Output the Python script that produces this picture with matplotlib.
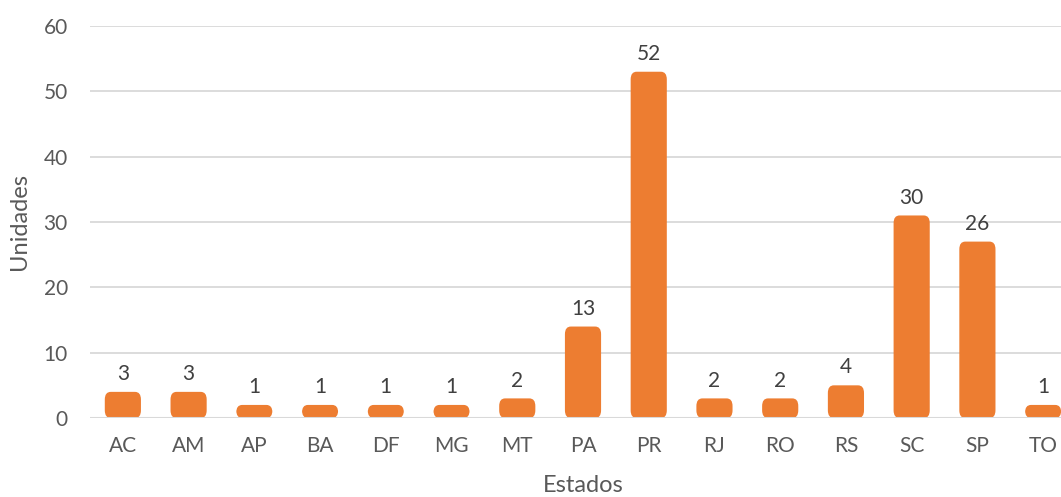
import matplotlib.pyplot as plt
from matplotlib.patches import FancyBboxPatch

estados = ['AC', 'AM', 'AP', 'BA', 'DF', 'MG', 'MT', 'PA', 'PR', 'RJ', 'RO', 'RS', 'SC', 'SP', 'TO']
unidades = [3, 3, 1, 1, 1, 1, 2, 13, 52, 2, 2, 4, 30, 26, 1]

orange = '#ED7D31'
grid = '#D9D9D9'
txt = '#595959'

plt.rcParams['font.family'] = ['Lato', 'DejaVu Sans']

fig = plt.figure(figsize=(10.61, 4.97), dpi=100)
ax = fig.add_axes([90 / 1061, 79 / 497, 986 / 1061, 392 / 497])

x = range(len(estados))
bars = ax.bar(x, unidades, width=0.55, color='none')

cap = 1.0  # rounded top cap, like the original
for b, v in zip(bars, unidades):
    p = FancyBboxPatch((b.get_x(), 0), b.get_width(), b.get_height() + cap,
                       boxstyle='round,pad=0,rounding_size=0.09',
                       mutation_aspect=13, facecolor=orange, edgecolor='none', zorder=2)
    ax.add_patch(p)
    ax.text(b.get_x() + b.get_width() / 2, v + cap + 1.2, str(v),
            ha='center', va='bottom', fontsize=15, color='#404040')

ax.set_xlim(-0.5, len(estados) - 0.5)
ax.set_ylim(0, 60)
ax.set_yticks(range(0, 61, 10))
ax.yaxis.grid(True, color=grid, linewidth=1.3, zorder=0)
ax.set_axisbelow(True)
ax.axhline(0, color=grid, linewidth=1.5, zorder=3)
ax.set_xticks(list(x))
ax.set_xticklabels(estados)
for s in ax.spines.values():
    s.set_visible(False)
ax.tick_params(axis='both', length=0, labelsize=15, labelcolor=txt)
ax.tick_params(axis='x', pad=13)
ax.tick_params(axis='y', pad=16)
ax.set_xlabel('Estados', fontsize=17, color=txt, labelpad=14)
ax.set_ylabel('Unidades', fontsize=17, color=txt, labelpad=10)

fig.savefig('out.png', dpi=100)
